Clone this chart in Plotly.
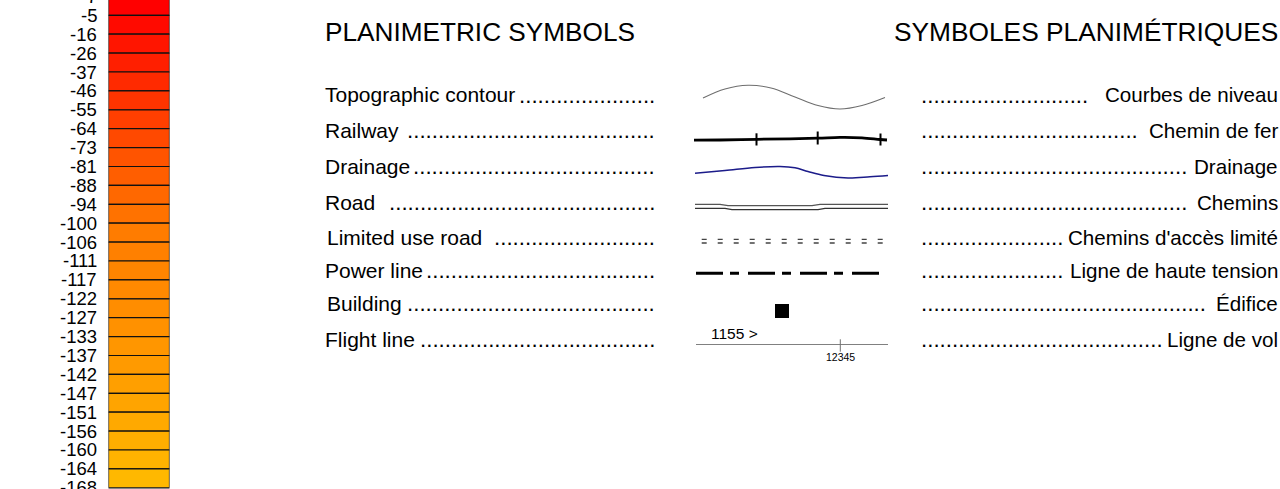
import plotly.graph_objects as go

# ---------------- DATA ----------------
depth_labels = ["7", "-5", "-16", "-26", "-37", "-46", "-55", "-64", "-73", "-81", "-88",
                "-94", "-100", "-106", "-111", "-117", "-122", "-127", "-133", "-137",
                "-142", "-147", "-151", "-156", "-160", "-164", "-168"]
cell_colors = ["#FF0000", "#FF0A00", "#FF1500", "#FF1F00", "#FF2A00", "#FF3400", "#FF3F00",
               "#FF4900", "#FF5400", "#FF5E00", "#FF6800", "#FF7200", "#FF7C00", "#FF8000",
               "#FF8500", "#FF8900", "#FF8D00", "#FF9100", "#FF9600", "#FF9A00", "#FF9F00",
               "#FFA400", "#FFA900", "#FFAE00", "#FFB300", "#FFB800"]
title_en = "PLANIMETRIC SYMBOLS"
title_fr = "SYMBOLES PLANIMÉTRIQUES"
labels_en = ["Topographic contour", "Railway", "Drainage", "Road", "Limited use road",
             "Power line", "Building", "Flight line"]
labels_fr = ["Courbes de niveau", "Chemin de fer", "Drainage", "Chemins",
             "Chemins d'accès limité", "Ligne de haute tension", "Édifice", "Ligne de vol"]
flight_line_number = "1155 >"
flight_photo_number = "12345"

# ---------------- LAYOUT / GEOMETRY (pixel space) ----------------
W, H = 1280, 489
FONT = "Liberation Sans, Arial, sans-serif"
row_y = [94.5, 130.3, 166.3, 202.0, 237.0, 270.3, 303.0, 339.0]
en_x = [322.5, 322.5, 322.5, 322.5, 324.5, 322.5, 324.5, 322.5]
dots_left_n = [22, 40, 39, 43, 26, 37, 40, 38]
dots_right_n = [27, 35, 43, 43, 23, 23, 46, 39]

cell_px = 18.9           # height of one colour cell
first_px = -3.6          # pixel y of first boundary label
bar_x0, bar_x1 = 108.5, 169.5

fig = go.Figure()

# ---- colour bar (own axes, index scale) ----
n_cells = len(cell_colors)
fig.add_trace(go.Bar(
    x=[0] * n_cells, y=[1] * n_cells, base=list(range(n_cells)), width=1,
    marker=dict(color=cell_colors, line=dict(color="#111111", width=1.2)),
    xaxis="x2", yaxis="y2", hoverinfo="skip", showlegend=False))

r_top = (0 - first_px) / cell_px
r_bot = (H - first_px) / cell_px

annotations = []
for i, lab in enumerate(depth_labels):
    py = first_px + i * cell_px
    annotations.append(dict(x=98.5, y=1 - py / H, xref="x", yref="paper", text=lab,
                            showarrow=False, xanchor="right", yanchor="middle",
                            font=dict(family=FONT, size=18.5, color="black")))

# ---- titles ----
annotations.append(dict(x=322.5, y=31.5, xref="x", yref="y", text=title_en, showarrow=False,
                        xanchor="left", yanchor="middle",
                        font=dict(family=FONT, size=26.2, color="black")))
annotations.append(dict(x=1280, y=31.5, xref="x", yref="y", text=title_fr, showarrow=False,
                        xanchor="right", yanchor="middle",
                        font=dict(family=FONT, size=26.3, color="black")))

# ---- row labels and leader dots ----
for i in range(len(labels_en)):
    y = row_y[i]
    annotations.append(dict(x=en_x[i], y=y, xref="x", yref="y", text=labels_en[i],
                            showarrow=False, xanchor="left", yanchor="middle",
                            font=dict(family=FONT, size=21, color="black")))
    annotations.append(dict(x=657, y=y + 0.6, xref="x", yref="y", text="." * dots_left_n[i],
                            showarrow=False, xanchor="right", yanchor="middle",
                            font=dict(family=FONT, size=22.3, color="black")))
    annotations.append(dict(x=1279.5, y=y, xref="x", yref="y", text=labels_fr[i],
                            showarrow=False, xanchor="right", yanchor="middle",
                            font=dict(family=FONT, size=20.6, color="black")))
    annotations.append(dict(x=918.5, y=y + 0.6, xref="x", yref="y", text="." * dots_right_n[i],
                            showarrow=False, xanchor="left", yanchor="middle",
                            font=dict(family=FONT, size=22.3, color="black")))

def line(xs, ys, color, width, dash="solid", shape="linear"):
    fig.add_trace(go.Scatter(x=xs, y=ys, mode="lines", xaxis="x", yaxis="y",
                             line=dict(color=color, width=width, dash=dash, shape=shape),
                             hoverinfo="skip", showlegend=False))

# topographic contour
line([703, 725, 748, 771, 795, 818, 840, 862, 885],
     [98, 89, 85.3, 88, 97, 105.5, 109, 105.5, 97.5], "#6e6e6e", 1.1, shape="spline")
# railway
line([694, 720, 757, 790, 818, 840, 862, 880, 887],
     [140.2, 140, 139.3, 138.8, 138.2, 137.4, 137.8, 139.5, 140], "black", 2.8, shape="spline")
for tx, ty0, ty1 in [(756.5, 133.3, 145.5), (817.7, 131.5, 144.5), (880.5, 133.5, 145.5)]:
    line([tx, tx], [ty0, ty1], "black", 2)
# drainage
line([695, 725, 755, 780, 795, 808, 824, 848, 870, 888],
     [173.2, 170.5, 167.5, 166.5, 167.8, 171.5, 175.5, 178, 176.8, 175.5], "#1c1c8a", 1.6,
     shape="spline")
# road (double line)
line([695, 720, 728, 812, 820, 888], [204.3, 204.3, 205.6, 205.6, 204.3, 204.3], "#555555", 1.3)
line([695, 725, 732, 818, 825, 888], [208.4, 208.4, 209.6, 209.6, 208.4, 208.4], "#333333", 1.4)
# limited use road
line([701.7, 885], [239.3, 239.3], "#444444", 1.3, dash="5px,11px")
line([701.7, 885], [243.0, 243.0], "#444444", 1.3, dash="5px,11px")
# power line
line([696, 881], [273.3, 273.3], "black", 3, dash="27px,7px,9px,9px")
# building
fig.add_trace(go.Scatter(x=[782], y=[311], mode="markers", xaxis="x", yaxis="y",
                         marker=dict(symbol="square", size=14, color="black",
                                     line=dict(width=0)),
                         hoverinfo="skip", showlegend=False))
# flight line
line([696, 888], [344.5, 344.5], "#808080", 1)
line([840.3, 840.3], [339.3, 351.7], "#707070", 1)
annotations.append(dict(x=709, y=333.5, xref="x", yref="y", text=flight_line_number,
                        showarrow=False, xanchor="left", yanchor="middle",
                        font=dict(family=FONT, size=15.5, color="black")))
annotations.append(dict(x=840.8, y=356.5, xref="x", yref="y", text=flight_photo_number,
                        showarrow=False, xanchor="center", yanchor="middle",
                        font=dict(family=FONT, size=10.5, color="black")))

fig.update_layout(
    width=W, height=H, margin=dict(l=0, r=0, t=0, b=0, pad=0),
    paper_bgcolor="white", plot_bgcolor="rgba(0,0,0,0)",
    showlegend=False, barmode="overlay",
    xaxis=dict(domain=[0, 1], range=[0, W], visible=False, fixedrange=True),
    yaxis=dict(domain=[0, 1], range=[H, 0], visible=False, fixedrange=True),
    xaxis2=dict(domain=[bar_x0 / W, bar_x1 / W], range=[-0.5, 0.5], visible=False,
                anchor="y2", fixedrange=True),
    yaxis2=dict(domain=[0, 1], range=[r_bot, r_top], visible=False, anchor="x2",
                fixedrange=True),
    annotations=annotations,
)

fig.write_html("out.html", config={"displayModeBar": False, "staticPlot": True},
               post_script="document.body.style.margin='0';document.body.style.overflow='hidden';")
